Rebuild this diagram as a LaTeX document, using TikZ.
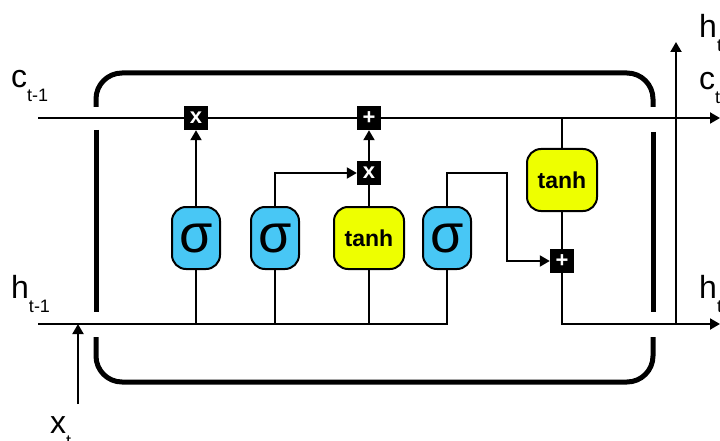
\documentclass[tikz,border=0pt]{standalone}
\usepackage{fontspec}
\setmainfont{Liberation Sans}
\usetikzlibrary{arrows.meta}
\definecolor{sigfill}{RGB}{72,199,245}
\definecolor{tanhfill}{RGB}{238,255,0}
\newcommand{\lbl}[2]{{\fontsize{32}{32}\selectfont #1}\raisebox{-14pt}{\fontsize{18}{18}\selectfont #2}}
\tikzset{
  gate/.style={draw=black, line width=2pt, rounded corners=14pt, inner sep=0pt, minimum height=62pt},
  sig/.style={gate, fill=sigfill, minimum width=48pt, font=\fontsize{54}{54}\selectfont},
  tnh/.style={gate, fill=tanhfill, minimum width=70pt, font=\fontsize{23}{23}\selectfont\bfseries},
  op/.style={fill=black, minimum size=24pt, inner sep=0pt, text=white, font=\fontsize{22}{22}\selectfont\bfseries},
  wire/.style={line width=2pt},
  arr/.style={line width=2pt, -{Triangle[length=10pt,width=11pt]}},
  frame/.style={line width=5pt, rounded corners=26pt},
  lab/.style={anchor=base west, inner sep=0pt}
}
\begin{document}
\begin{tikzpicture}[x=1pt,y=-1pt]
\clip (0,0) rectangle (720,441);
\fill[white] (0,0) rectangle (720,441);
% frame
\draw[frame] (96,107) -- (96,73) -- (653,73) -- (653,107);
\draw[frame] (96,337) -- (96,382) -- (653,382) -- (653,337);
\draw[line width=5pt] (96,130) -- (96,312);
\draw[line width=5pt] (653,132) -- (653,312);
% coordinates
\coordinate (cin) at (38,118);
\coordinate (cout) at (720,118);
\coordinate (hin) at (38,324);
\coordinate (hout) at (720,324);
\coordinate (xin) at (78,404);
\coordinate (xend) at (78,324);
\coordinate (hb) at (676,324);
\coordinate (hup) at (676,42);
\coordinate (b3) at (507,173);
% nodes
\node[op] (m1) at (196,118) {x};
\node[op] (p1) at (369,118) {+};
\node[op] (m2) at (369,173) {x};
\node[op] (p2) at (562,261) {+};
\node[sig] (s1) at (196,238) {σ};
\node[sig] (s2) at (275,238) {σ};
\node[tnh] (t1) at (369,238) {tanh};
\node[sig] (s3) at (447,238) {σ};
\node[tnh] (t2) at (562,180) {tanh};
% cell state line
\draw[wire] (cin) -- (m1.west);
\draw[wire] (m1.east) -- (p1.west);
\draw[arr] (p1.east) -- (cout);
% hidden line
\draw[wire] (hin) -| (s3.south);
\draw[wire] (s1.south) -- (s1.south |- hin);
\draw[wire] (s2.south) -- (s2.south |- hin);
\draw[wire] (t1.south) -- (t1.south |- hin);
\draw[arr] (xin) -- (xend);
% gates
\draw[arr] (s1.north) -- (m1.south);
\draw[arr] (s2.north) |- (m2.west);
\draw[wire] (t1.north) -- (m2.south);
\draw[arr] (m2.north) -- (p1.south);
\draw[arr] (s3.north) |- (b3) |- (p2.west);
\draw[wire] (t2.north) -- (t2.north |- cin);
\draw[wire] (t2.south) -- (p2.north);
\draw[arr] (p2.south) |- (hout);
\draw[arr] (hb) -- (hup);
% labels
\node[lab] (lc) at (11,88) {\lbl{c}{t-1}};
\node[lab] (lh) at (11,298) {\lbl{h}{t-1}};
\node[lab] (lx) at (50,433) {\lbl{x}{t}};
\node[lab] (rh) at (699,38) {\lbl{h}{t}};
\node[lab] (rc) at (699,90) {\lbl{c}{t}};
\node[lab] (rh2) at (699,298) {\lbl{h}{t}};
\end{tikzpicture}
\end{document}
